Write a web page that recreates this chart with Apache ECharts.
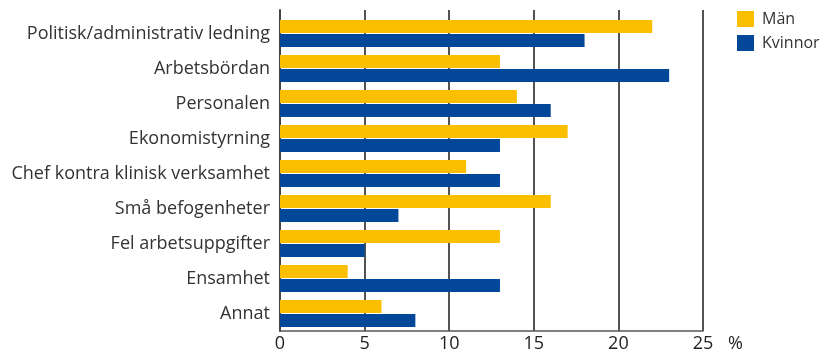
<!DOCTYPE html>
<html><head><meta charset="utf-8">
<script src="https://cdn.jsdelivr.net/npm/echarts@6/dist/echarts.min.js"></script>
<style>html,body{margin:0;padding:0;background:#fff}#c{width:828px;height:353px}</style>
</head><body><div id="c"></div>
<script>
const categories = ['Politisk/administrativ ledning','Arbetsbördan','Personalen','Ekonomistyrning','Chef kontra klinisk verksamhet','Små befogenheter','Fel arbetsuppgifter','Ensamhet','Annat'];
const man = [22, 13, 14, 17, 11, 16, 13, 4, 6];
const kvinnor = [18, 23, 16, 13, 13, 7, 5, 13, 8];
const seriesNames = ['Män', 'Kvinnor'];
const xTicks = {min: 0, max: 25, interval: 5};

const FONT = '"Open Sans", "Liberation Sans", Arial, sans-serif';
const chart = echarts.init(document.getElementById('c'), null, {renderer: 'canvas'});
const split = {show: true, lineStyle: {color: '#1a1a1a', width: 1.5}};
chart.setOption({
  animation: false,
  textStyle: {fontFamily: FONT},
  color: ['#FBBF00', '#034898'],
  legend: {
    orient: 'vertical', left: 737, top: 11, itemWidth: 17, itemHeight: 16, itemGap: 8, padding: 0,
    icon: 'rect', data: seriesNames,
    textStyle: {fontSize: 16, color: '#333', fontFamily: FONT, padding: [0, 0, 0, 3]}
  },
  grid: [
    {left: 280, top: 16, width: 423, height: 315, containLabel: false},
    {left: 280, top: 10, width: 423, height: 6, containLabel: false}
  ],
  xAxis: [
    {type: 'value', gridIndex: 0, min: xTicks.min, max: xTicks.max, interval: xTicks.interval,
     name: '%', nameLocation: 'end', nameGap: 25,
     nameTextStyle: {fontSize: 18, color: '#222', verticalAlign: 'top', padding: [4, 0, 0, 0], fontFamily: FONT},
     axisLine: {show: true, lineStyle: {color: '#555', width: 1.5}},
     axisTick: {show: false},
     axisLabel: {fontSize: 18, color: '#222', margin: 4, fontFamily: FONT},
     splitLine: split},
    {type: 'value', gridIndex: 1, min: xTicks.min, max: xTicks.max, interval: xTicks.interval,
     axisLine: {show: false}, axisTick: {show: false}, axisLabel: {show: false}, splitLine: split}
  ],
  yAxis: [
    {type: 'category', gridIndex: 0, inverse: true, data: categories,
     axisLine: {show: true, lineStyle: {color: '#444', width: 2}},
     axisTick: {show: false},
     axisLabel: {fontSize: 18, color: '#333', margin: 10, fontFamily: FONT}},
    {type: 'category', gridIndex: 1, data: [''],
     axisLine: {show: true, lineStyle: {color: '#444', width: 2}},
     axisTick: {show: false}, axisLabel: {show: false}}
  ],
  series: [
    {name: seriesNames[0], type: 'bar', xAxisIndex: 0, yAxisIndex: 0, data: man, barWidth: 13, barGap: '8%'},
    {name: seriesNames[1], type: 'bar', xAxisIndex: 0, yAxisIndex: 0, data: kvinnor, barWidth: 13, barGap: '8%'}
  ]
});
</script></body></html>
